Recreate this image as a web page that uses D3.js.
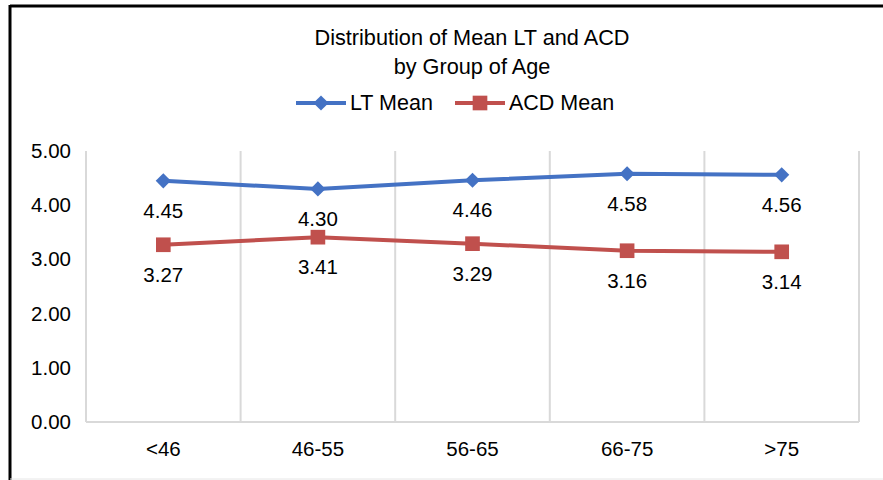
<!DOCTYPE html>
<html>
<head>
<meta charset="utf-8">
<script src="https://cdn.jsdelivr.net/npm/d3@7"></script>
<style>
  html, body { margin: 0; padding: 0; background: #fff; }
  svg { display: block; font-family: "Liberation Sans", Arial, sans-serif; }
</style>
</head>
<body>
<svg id="chart" width="883" height="480"></svg>
<script>
// Datos
var categories = ['<46', '46-55', '56-65', '66-75', '>75'];
var ltMean = [4.45, 4.30, 4.46, 4.58, 4.56];
var acdMean = [3.27, 3.41, 3.29, 3.16, 3.14];
var yTicks = [0, 1, 2, 3, 4, 5];
var titleLines = ['Distribution of Mean LT and ACD', 'by Group of Age'];
var seriesNames = ['LT Mean', 'ACD Mean'];

var colors = ['#4472C4', '#C0504D'];
var fontSize = 20.5;
var markerSize = [115, 215];

var svg = d3.select('#chart');
var margin = { top: 151, left: 86, right: 24, bottom: 58 };
var width = 883 - margin.left - margin.right,
  height = 480 - margin.top - margin.bottom;

// Marco (solo arriba e izquierda en negro)
svg.append('line').attr('x1', 10).attr('x2', 883).attr('y1', 6).attr('y2', 6)
  .attr('stroke', '#000').attr('stroke-width', 3);
svg.append('line').attr('x1', 10).attr('x2', 10).attr('y1', 5).attr('y2', 480)
  .attr('stroke', '#000').attr('stroke-width', 3);
svg.append('line').attr('x1', 10).attr('x2', 883).attr('y1', 479).attr('y2', 479)
  .attr('stroke', '#e6e6e6').attr('stroke-width', 1);

var g = svg.append('g').attr('transform', 'translate(' + margin.left + ',' + margin.top + ')');

var x = d3.scaleBand().domain(categories).range([0, width]);
var y = d3.scaleLinear().domain([0, 5]).range([height, 0]);

// Grilla vertical
var bounds = categories.map(function (c) { return x(c); }).concat([width]);
g.selectAll('.vgrid').data(bounds).enter().append('line')
  .attr('class', 'vgrid')
  .attr('x1', function (d) { return d; }).attr('x2', function (d) { return d; })
  .attr('y1', 0).attr('y2', height)
  .attr('stroke', '#d9d9d9').attr('stroke-width', 2);

// Eje X
g.append('line').attr('x1', 0).attr('x2', width).attr('y1', height).attr('y2', height)
  .attr('stroke', '#d9d9d9').attr('stroke-width', 2);
g.selectAll('.xlabel').data(categories).enter().append('text')
  .attr('x', function (d) { return x(d) + x.bandwidth() / 2; })
  .attr('y', height + 34)
  .attr('text-anchor', 'middle')
  .attr('font-size', fontSize)
  .attr('fill', '#000')
  .text(function (d) { return d; });

// Eje Y
g.selectAll('.ylabel').data(yTicks).enter().append('text')
  .attr('x', -15)
  .attr('y', function (d) { return y(d) + 7; })
  .attr('text-anchor', 'end')
  .attr('font-size', fontSize)
  .attr('fill', '#000')
  .text(function (d) { return d3.format('.2f')(d); });

// Series
var series = [ltMean, acdMean];
var line = d3.line()
  .x(function (d, i) { return x(categories[i]) + x.bandwidth() / 2; })
  .y(function (d) { return y(d); });

series.forEach(function (data, s) {
  g.append('path').datum(data)
    .attr('d', line)
    .attr('fill', 'none')
    .attr('stroke', colors[s])
    .attr('stroke-width', 4);

  g.selectAll('.m' + s).data(data).enter().append('path')
    .attr('transform', function (d, i) {
      return 'translate(' + (x(categories[i]) + x.bandwidth() / 2) + ',' + y(d) + ')' + (s === 0 ? ' rotate(45)' : '');
    })
    .attr('d', d3.symbol().type(d3.symbolSquare).size(markerSize[s]))
    .attr('fill', colors[s]);

  g.selectAll('.lbl' + s).data(data).enter().append('text')
    .attr('x', function (d, i) { return x(categories[i]) + x.bandwidth() / 2; })
    .attr('y', function (d) { return y(d) + 37; })
    .attr('text-anchor', 'middle')
    .attr('font-size', fontSize)
    .attr('fill', '#000')
    .text(function (d) { return d3.format('.2f')(d); });
});

// Titulo
svg.selectAll('.title').data(titleLines).enter().append('text')
  .attr('x', 472)
  .attr('y', function (d, i) { return 45 + i * 29; })
  .attr('text-anchor', 'middle')
  .attr('font-size', 21.7)
  .attr('fill', '#000')
  .text(function (d) { return d; });

// Leyenda
var legendX = [296, 455];
seriesNames.forEach(function (name, s) {
  var lg = svg.append('g').attr('transform', 'translate(' + legendX[s] + ',103)');
  lg.append('line').attr('x1', 0).attr('x2', 50).attr('y1', 0).attr('y2', 0)
    .attr('stroke', colors[s]).attr('stroke-width', 4);
  lg.append('path')
    .attr('transform', 'translate(25,0)' + (s === 0 ? ' rotate(45)' : ''))
    .attr('d', d3.symbol().type(d3.symbolSquare).size(markerSize[s]))
    .attr('fill', colors[s]);
  lg.append('text').attr('x', 54).attr('y', 7)
    .attr('font-size', 21.5).attr('fill', '#000')
    .text(name);
});
</script>
</body>
</html>
